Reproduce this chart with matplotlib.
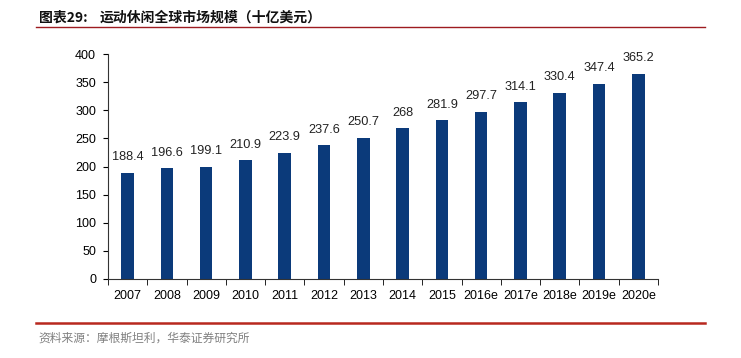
import matplotlib
matplotlib.use("Agg")
from matplotlib import pyplot as plt
from matplotlib.lines import Line2D
import numpy as np

plt.rcParams['font.family'] = ['Liberation Sans', 'Noto Sans CJK SC', 'DejaVu Sans']

years = ['2007', '2008', '2009', '2010', '2011', '2012', '2013', '2014',
         '2015', '2016e', '2017e', '2018e', '2019e', '2020e']
values = [188.4, 196.6, 199.1, 210.9, 223.9, 237.6, 250.7, 268,
          281.9, 297.7, 314.1, 330.4, 347.4, 365.2]
value_labels = ['188.4', '196.6', '199.1', '210.9', '223.9', '237.6', '250.7', '268',
                '281.9', '297.7', '314.1', '330.4', '347.4', '365.2']
yticks = [0, 50, 100, 150, 200, 250, 300, 350, 400]

fig = plt.figure(figsize=(7.41, 3.58), dpi=100)
ax = fig.add_axes([0.1457, 0.2207, 0.7423, 0.6283])

x = np.arange(len(years))
ax.bar(x, values, width=0.32, color='#0B3A7A')
for xi, v, lab in zip(x, values, value_labels):
    ax.annotate(lab, (xi, v), xytext=(0, 7), textcoords='offset points',
                ha='center', va='bottom', fontsize=9.2, color='#222222')

ax.set_xlim(-0.5, len(years) - 0.5)
ax.set_ylim(0, 400)
ax.set_yticks(yticks)
ax.set_yticklabels([str(t) for t in yticks], fontsize=9)
ax.set_xticks(x)
ax.set_xticklabels(years, fontsize=9)
ax.tick_params(axis='x', length=0, pad=8)
ax.set_xticks(np.arange(-0.5, len(years)), minor=True)
ax.tick_params(axis='x', which='minor', length=4, direction='out')
ax.tick_params(axis='y', length=3.5, direction='out', pad=5)
for s in ['top', 'right']:
    ax.spines[s].set_visible(False)
ax.spines['left'].set_color('#333333')
ax.spines['bottom'].set_color('#333333')

# header and footer
cjk = ['Noto Sans CJK SC', 'DejaVu Sans']
fig.text(0.052, 0.952, '图表29:', fontsize=10, fontweight='bold',
         family=cjk, va='center', color='#111111')
fig.text(0.135, 0.952, '运动休闲全球市场规模（十亿美元）', fontsize=10, fontweight='bold',
         family=cjk, va='center', color='#111111')
fig.add_artist(Line2D([0.049, 0.951], [0.925, 0.925], color='#9E1B20', lw=1.0))
fig.add_artist(Line2D([0.049, 0.951], [0.099, 0.099], color='#B8281E', lw=1.8))
fig.text(0.052, 0.056, '资料来源：摩根斯坦利，华泰证券研究所', fontsize=8.5,
         family=cjk, va='center', color='#808080')

fig.savefig('out.png', dpi=100)
